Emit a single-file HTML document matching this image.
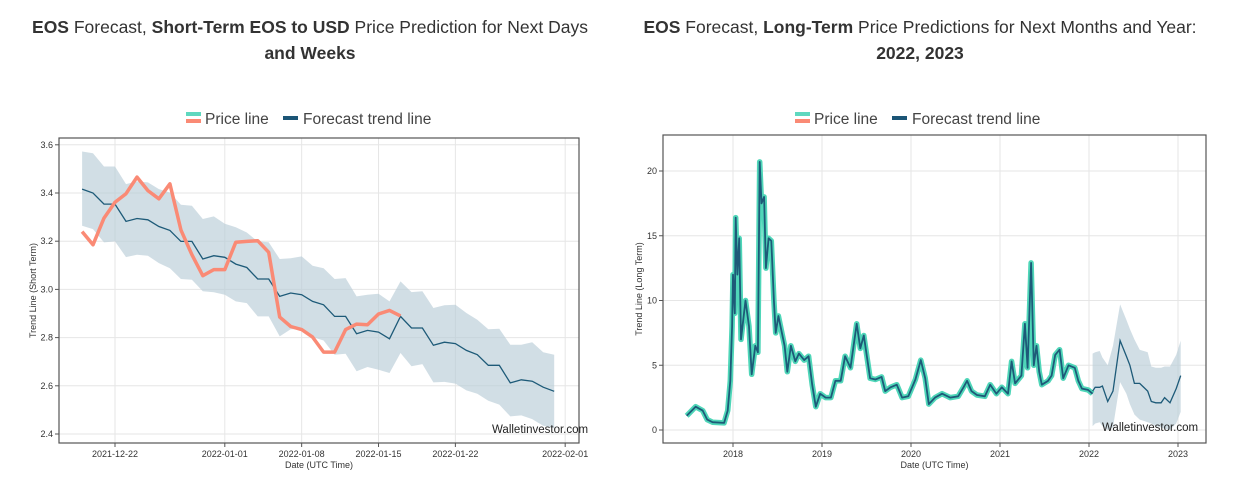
<!DOCTYPE html>
<html><head><meta charset="utf-8"><style>
body{margin:0;background:#fff;font-family:"Liberation Sans",sans-serif;}
svg text{font-family:"Liberation Sans",sans-serif;}
</style></head><body>
<svg id="s" width="1245" height="480" xmlns="http://www.w3.org/2000/svg">
<g font-size="17.5" fill="#333" text-anchor="middle">
<text x="310" y="33"><tspan font-weight="bold">EOS</tspan> Forecast, <tspan font-weight="bold">Short-Term EOS to USD</tspan> Price Prediction for Next Days</text>
<text x="310" y="59" font-weight="bold">and Weeks</text></g>
<g font-size="17.5" fill="#333" text-anchor="middle">
<text x="920" y="33"><tspan font-weight="bold">EOS</tspan> Forecast, <tspan font-weight="bold">Long-Term</tspan> Price Predictions for Next Months and Year:</text>
<text x="920" y="59" font-weight="bold">2022, 2023</text></g>
<g id="L"></g><g id="R"></g>
</svg>
<script>
// Short-term data (day offsets from 2021-12-22)
const sDays=[-3,-2,-1,0,1,2,3,4,5,6,7,8,9,10,11,12,13,14,15,16,17,18,19,20,21,22,23,24,25,26,27,28,29,30,31,32,33,34,35,36,37,38,39,40];
const sTrend=[3.416,3.40,3.354,3.354,3.282,3.294,3.289,3.261,3.245,3.199,3.199,3.126,3.14,3.133,3.105,3.091,3.043,3.043,2.971,2.985,2.978,2.95,2.936,2.888,2.888,2.816,2.83,2.823,2.795,2.888,2.84,2.84,2.768,2.781,2.775,2.747,2.729,2.685,2.685,2.612,2.625,2.619,2.594,2.577];
const sUpper=[3.572,3.565,3.51,3.51,3.437,3.448,3.444,3.416,3.402,3.351,3.347,3.292,3.303,3.272,3.258,3.236,3.199,3.196,3.126,3.129,3.137,3.098,3.088,3.043,3.047,2.971,2.978,2.982,2.95,3.033,2.989,2.992,2.923,2.934,2.936,2.902,2.874,2.835,2.837,2.77,2.77,2.781,2.739,2.729];
const sLower=[3.264,3.25,3.195,3.199,3.134,3.144,3.14,3.109,3.088,3.043,3.04,2.992,2.988,2.978,2.95,2.943,2.888,2.888,2.805,2.835,2.835,2.802,2.788,2.729,2.733,2.66,2.678,2.667,2.653,2.736,2.681,2.69,2.614,2.616,2.609,2.581,2.567,2.538,2.522,2.473,2.477,2.462,2.434,2.425];
const sPrice=[3.24,3.185,3.296,3.362,3.397,3.466,3.41,3.376,3.438,3.247,3.144,3.057,3.082,3.082,3.196,3.199,3.202,3.154,2.885,2.846,2.833,2.802,2.74,2.74,2.833,2.856,2.853,2.898,2.913,2.89];
const sYTicks=[2.4,2.6,2.8,3.0,3.2,3.4,3.6];
const sXTicks=[0,10,17,24,31,41];
const sXLabels=["2021-12-22","2022-01-01","2022-01-08","2022-01-15","2022-01-22","2022-02-01"];
// Long-term data (decimal years)
const lPriceT=[2017.48,2017.58,2017.66,2017.71,2017.77,2017.90,2017.94,2017.97,2017.99,2018.00,2018.02,2018.03,2018.05,2018.07,2018.09,2018.14,2018.18,2018.21,2018.25,2018.28,2018.30,2018.32,2018.35,2018.37,2018.40,2018.43,2018.46,2018.48,2018.51,2018.55,2018.58,2018.61,2018.65,2018.70,2018.74,2018.80,2018.85,2018.89,2018.93,2018.98,2019.04,2019.10,2019.15,2019.21,2019.26,2019.32,2019.39,2019.43,2019.47,2019.54,2019.60,2019.67,2019.71,2019.77,2019.84,2019.90,2019.97,2020.05,2020.11,2020.16,2020.20,2020.27,2020.35,2020.44,2020.53,2020.59,2020.63,2020.68,2020.74,2020.83,2020.89,2020.96,2021.02,2021.09,2021.13,2021.17,2021.24,2021.28,2021.31,2021.33,2021.35,2021.38,2021.41,2021.44,2021.47,2021.54,2021.58,2021.62,2021.67,2021.71,2021.77,2021.84,2021.88,2021.92,2021.99,2022.04];
const lPrice=[1.1,1.8,1.5,0.8,0.6,0.55,1.5,3.8,8,12,9,16.4,12,14.8,7,10,8,4.3,6.5,6,20.7,17.5,18,12.5,14.8,14.6,10,7.5,8.8,7.5,6.5,4.5,6.5,5.3,5.9,5.4,5.7,3.5,1.8,2.8,2.5,2.5,3.8,3.8,5.7,4.8,8.2,6.3,7.3,4,3.9,4.1,3,3.3,3.5,2.5,2.6,3.9,5.4,4,2,2.5,2.8,2.5,2.6,3.3,3.8,3,2.7,2.6,3.5,2.8,3.3,2.8,5.3,3.6,4.2,8.2,4.8,9,12.9,5,6.5,4.5,3.5,3.8,4.2,5.8,6.2,4,5,4.8,3.8,3.2,3.1,2.8];
const lFcT=[2022.04,2022.07,2022.12,2022.15,2022.21,2022.27,2022.35,2022.42,2022.46,2022.51,2022.57,2022.66,2022.70,2022.75,2022.81,2022.85,2022.91,2022.98,2023.03];
const lFc=[3.0,3.3,3.3,3.4,2.2,3.0,6.9,5.7,5.0,3.6,3.6,3.0,2.2,2.1,2.1,2.5,2.1,3.2,4.2];
const lUpper=[5.9,6.0,6.1,5.6,5.0,6.5,9.7,8.5,7.8,7.0,6.2,6.0,4.9,4.8,4.8,4.9,4.9,5.8,6.9];
const lLower=[0.3,0.5,0.6,0.3,0,0.2,3.7,2.8,2.0,1.2,0.8,0.6,0.5,0.3,0.2,0.1,0,0.5,1.4];
const lYTicks=[0,5,10,15,20];
const lXTicks=[2018,2019,2020,2021,2022,2023];

const NS="http://www.w3.org/2000/svg";
function mk(p,tag,at){const e=document.createElementNS(NS,tag);for(const k in at)e.setAttribute(k,at[k]);p.appendChild(e);return e;}
function pts(xs,ys,fx,fy){return xs.map((x,i)=>fx(x).toFixed(1)+","+fy(ys[i]).toFixed(1)).join(" ");}

function chart(g,o){
  const {x0,x1,y0,y1,fx,fy}=o;
  o.xt.forEach((t,i)=>{const l=mk(g,'line',{x1:fx(t),x2:fx(t),y1:y0,y2:y1,stroke:'#e6e6e6','stroke-width':1});
    
    mk(g,'line',{x1:fx(t),x2:fx(t),y1:y1,y2:y1+4,stroke:'#555'});
    const tx=mk(g,'text',{x:fx(t),y:y1+14,'font-size':9,fill:'#333','text-anchor':'middle'});tx.textContent=o.xl[i];
    });
  o.yt.forEach(t=>{const l=mk(g,'line',{x1:x0,x2:x1,y1:fy(t),y2:fy(t),stroke:'#e6e6e6','stroke-width':1});
    
    mk(g,'line',{x1:x0-4,x2:x0,y1:fy(t),y2:fy(t),stroke:'#555'});
    const tx=mk(g,'text',{x:x0-6,y:fy(t)+3,'font-size':9,fill:'#333','text-anchor':'end'});tx.textContent=o.yf(t);
    });
  const band=mk(g,'polygon',{points:pts(o.bx,o.bu,fx,fy)+" "+pts(o.bx.slice().reverse(),o.bl.slice().reverse(),fx,fy),fill:'#b9ccd7','fill-opacity':0.65});
  
  o.draw(g);
  const b=mk(g,'rect',{x:x0,y:y0,width:x1-x0,height:y1-y0,fill:'none',stroke:'#555','stroke-width':1.2});
  
  const at=mk(g,'text',{x:(x0+x1)/2,y:y1+25,'font-size':9,fill:'#333','text-anchor':'middle'});at.textContent='Date (UTC Time)';
  
  const yt=mk(g,'text',{x:0,y:0,'font-size':9,fill:'#333','text-anchor':'middle',transform:`translate(${o.ytx},${(y0+y1)/2}) rotate(-90)`});yt.textContent=o.ytitle;
  
  const w=mk(g,'text',{x:o.wx,y:o.wy,'font-size':11.5,fill:'#222'});w.textContent='Walletinvestor.com';
  
  const lg=mk(g,'g',{});
  const lx=o.lx;
  mk(lg,'rect',{x:lx,y:112,width:15,height:4,fill:'#5fd8bf'});
  mk(lg,'rect',{x:lx,y:119,width:15,height:4,fill:'#fa8a75'});
  const t1=mk(lg,'text',{x:lx+19,y:124,'font-size':15.5,fill:'#444'});t1.textContent='Price line';
  
  mk(lg,'rect',{x:lx+97,y:116,width:15,height:4,fill:'#1b5576'});
  const t2=mk(lg,'text',{x:lx+117,y:124,'font-size':15.5,fill:'#444'});t2.textContent='Forecast trend line';
  
}
(function(){
  const x0=59,x1=579,y0=138,y1=443;
  const fx=d=>115+d*10.98, fy=v=>434-(v-2.4)*241;
  chart(document.getElementById('L'),{x0,x1,y0,y1,fx,fy,xt:sXTicks,xl:sXLabels,yt:sYTicks,yf:t=>t.toFixed(1),
    bx:sDays,bu:sUpper,bl:sLower,ytx:36,ytitle:'Trend Line (Short Term)',wx:492,wy:433,lx:186,
    draw:g=>{
      const a=mk(g,'polyline',{points:pts(sDays,sTrend,fx,fy),fill:'none',stroke:'#1d5a78','stroke-width':1.3});
      
      const p=mk(g,'polyline',{points:pts(sDays.slice(0,sPrice.length),sPrice,fx,fy),fill:'none',stroke:'#fa8a75','stroke-width':3.5,'stroke-linejoin':'round'});
      
    }});
})();
(function(){
  const x0=663,x1=1206,y0=135,y1=443;
  const fx=t=>733+(t-2018)*89, fy=v=>430-v*12.95;
  chart(document.getElementById('R'),{x0,x1,y0,y1,fx,fy,xt:lXTicks,xl:lXTicks.map(String),yt:lYTicks,yf:t=>String(t),
    bx:lFcT,bu:lUpper,bl:lLower,ytx:642,ytitle:'Trend Line (Long Term)',wx:1102,wy:431,lx:795,
    draw:g=>{
      const p=mk(g,'polyline',{points:pts(lPriceT,lPrice,fx,fy),fill:'none',stroke:'#4fd6b8','stroke-width':5.5,'stroke-linejoin':'round'});
      
      const q=mk(g,'polyline',{points:pts(lPriceT,lPrice,fx,fy),fill:'none',stroke:'#1d5a78','stroke-width':1.8,'stroke-linejoin':'round'});
      
      const a=mk(g,'polyline',{points:pts(lFcT,lFc,fx,fy),fill:'none',stroke:'#1d5a78','stroke-width':1.3});
      
    }});
})();
</script>
</body></html>
